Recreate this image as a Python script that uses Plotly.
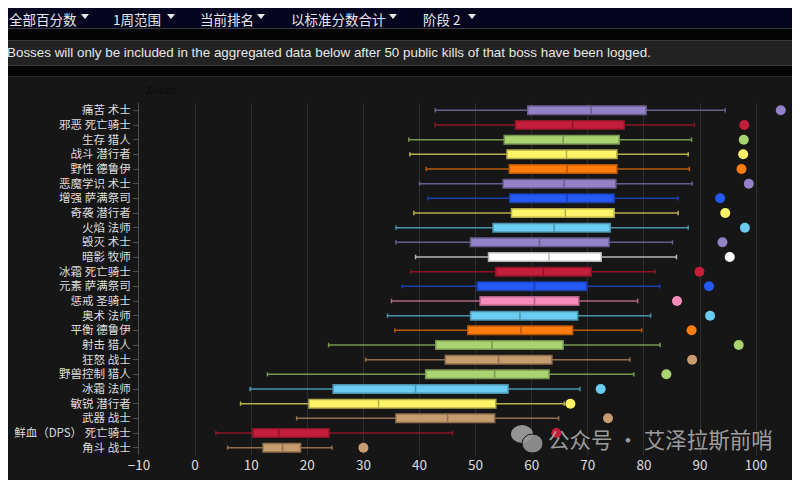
import plotly.graph_objects as go

# Spec rows, top to bottom
specs = [
    "痛苦 术士", "邪恶 死亡骑士", "生存 猎人", "战斗 潜行者", "野性 德鲁伊",
    "恶魔学识 术士", "增强 萨满祭司", "奇袭 潜行者", "火焰 法师", "毁灭 术士",
    "暗影 牧师", "冰霜 死亡骑士", "元素 萨满祭司", "惩戒 圣骑士", "奥术 法师",
    "平衡 德鲁伊", "射击 猎人", "狂怒 战士", "野兽控制 猎人", "冰霜 法师",
    "敏锐 潜行者", "武器 战士", "鲜血（DPS） 死亡骑士", "角斗 战士",
]
classes = [
    "术士", "死亡骑士", "猎人", "潜行者", "德鲁伊",
    "术士", "萨满祭司", "潜行者", "法师", "术士",
    "牧师", "死亡骑士", "萨满祭司", "圣骑士", "法师",
    "德鲁伊", "猎人", "战士", "猎人", "法师",
    "潜行者", "战士", "死亡骑士", "战士",
]
low = [42.8, 42.8, 38.1, 38.3, 41.2, 40.0, 41.5, 39.0, 35.8, 35.8, 39.3, 38.5,
       36.9, 35.0, 34.3, 35.6, 23.8, 30.4, 12.9, 9.8, 8.1, 18.1, 3.7, 5.8]
q1 = [59.3, 57.1, 55.1, 55.6, 56.0, 54.9, 56.1, 56.4, 53.1, 49.1, 52.3, 53.6,
      50.3, 50.8, 49.1, 48.6, 42.9, 44.6, 41.1, 24.6, 20.3, 35.8, 10.3, 12.1]
median = [70.6, 67.3, 65.6, 66.2, 66.3, 65.8, 66.3, 66.0, 64.0, 61.4, 63.1, 62.1,
          60.5, 60.5, 57.9, 58.1, 52.9, 54.1, 53.4, 39.3, 32.7, 45.0, 14.9, 15.6]
q3 = [80.4, 76.5, 75.6, 75.2, 75.2, 75.0, 74.7, 74.7, 74.0, 73.8, 72.4, 70.6,
      69.8, 68.4, 68.2, 67.3, 65.6, 63.6, 63.1, 55.8, 53.6, 53.4, 23.9, 18.8]
high = [94.5, 89.0, 88.5, 87.9, 88.1, 88.6, 86.1, 86.1, 87.9, 85.1, 85.8, 82.0,
        82.8, 78.9, 81.2, 79.6, 82.9, 77.5, 78.2, 68.6, 65.8, 64.8, 45.9, 24.4]
top = [104.4, 97.9, 97.8, 97.7, 97.4, 98.7, 93.6, 94.5, 98.0, 94.0, 95.3, 89.9,
       91.6, 85.9, 91.8, 88.5, 96.9, 88.6, 84.0, 72.3, 66.9, 73.6, 64.4, 30.0]

menu_items = ["全部百分数", "1周范围", "当前排名", "以标准分数合计", "阶段 2"]
notice = ("Bosses will only be included in the aggregated data below after 50 "
          "public kills of that boss have been logged.")

class_colors = {
    "术士": "#9482C9", "死亡骑士": "#C41E3A", "猎人": "#AAD372",
    "潜行者": "#FFF468", "德鲁伊": "#FF7C0A", "萨满祭司": "#2459F5",
    "法师": "#69CCF0", "牧师": "#FFFFFF", "圣骑士": "#F58CBA", "战士": "#C79C6E",
}


def darker(hex_color, f=0.72):
    h = hex_color.lstrip("#")
    r, g, b = (int(h[i:i + 2], 16) for i in (0, 2, 4))
    return f"rgb({int(r * f)},{int(g * f)},{int(b * f)})"


# the page puts the figure 8px in from the top-left corner,
# so build it 8px smaller and work in screen pixels
OFF = 8
FW, FH = 800 - OFF, 480 - OFF
L, T, W, H = 139 - OFF, 103 - OFF, 661, 352


def px(x):
    return (x - OFF - L) / W


def py(y):
    return 1 - (y - OFF - T) / H


fig = go.Figure()

for i, name in enumerate(specs):
    c = class_colors[classes[i]]
    fig.add_trace(go.Box(
        y=[name], q1=[q1[i]], median=[median[i]], q3=[q3[i]],
        lowerfence=[low[i]], upperfence=[high[i]],
        orientation="h", fillcolor=c,
        line=dict(color=darker(c), width=1.5),
        width=0.58, whiskerwidth=0.5, boxpoints=False,
        showlegend=False, hoverinfo="x",
    ))

fig.add_trace(go.Scatter(
    x=top, y=specs, mode="markers",
    marker=dict(size=10, color=[class_colors[c] for c in classes]),
    showlegend=False,
))

shapes = []


def band(y0, y1, color):
    shapes.append(dict(type="rect", xref="paper", yref="paper",
                       x0=px(0), x1=px(800), y0=py(y1), y1=py(y0),
                       fillcolor=color, line_width=0, layer="above"))


band(0, 1, "#3a3a3a")
band(1, 28, "#05051f")
band(28, 29, "#3a3a3a")
band(29, 40, "#040404")
band(40, 41, "#3a3a3a")
band(41, 65, "#222222")
band(65, 66, "#3a3a3a")
band(66, 76, "#040404")
band(76, 77, "#2a2a2a")

annotations = []
menu_x = [8, 112, 199, 290, 422]
tri_x = [85, 171, 261, 393, 472]
for text, x0, tx in zip(menu_items, menu_x, tri_x):
    # top-anchored at the figure edge so nothing gets clipped
    annotations.append(dict(
        text=text, x=px(x0), y=py(OFF), xref="paper", yref="paper",
        xanchor="left", yanchor="top", showarrow=False, borderpad=0,
        font=dict(family="Noto Sans CJK SC", size=13.5, color="#e8e8e8"),
    ))
    shapes.append(dict(
        type="path", xref="paper", yref="paper",
        path=f"M {px(tx - 4)} {py(14)} L {px(tx + 4)} {py(14)} L {px(tx)} {py(19)} Z",
        fillcolor="#e8e8e8", line_width=0,
    ))

annotations.append(dict(
    text=notice, x=px(4.5), y=py(53), xref="paper", yref="paper",
    xanchor="left", yanchor="middle", showarrow=False,
    font=dict(family="Liberation Sans, Arial", size=13.4, color="#e6e6e6"),
))
annotations.append(dict(
    text="Zoom", x=px(143), y=py(89), xref="paper", yref="paper",
    xanchor="left", yanchor="middle", showarrow=False,
    font=dict(family="Liberation Serif", size=13, color="#0a0a0a"),
))

# watermark
shapes.append(dict(type="circle", xref="paper", yref="paper",
                   x0=px(511), x1=px(533), y0=py(443), y1=py(425),
                   fillcolor="rgba(170,170,170,0.85)", line_width=0))
shapes.append(dict(type="circle", xref="paper", yref="paper",
                   x0=px(522), x1=px(543), y0=py(453), y1=py(434),
                   fillcolor="rgba(150,150,150,0.9)", line=dict(color="#161616", width=1)))
annotations.append(dict(
    text="公众号 · 艾泽拉斯前哨", x=px(546), y=py(438), xref="paper", yref="paper",
    xanchor="left", yanchor="middle", showarrow=False,
    font=dict(family="Noto Sans CJK SC", size=21.5, color="rgba(175,175,175,0.9)"),
))

fig.update_layout(
    width=FW, height=FH,
    margin=dict(l=L, r=FW - L - W, t=T, b=FH - T - H, autoexpand=False),
    paper_bgcolor="#161616", plot_bgcolor="#161616",
    boxmode="overlay",
    shapes=shapes, annotations=annotations,
    xaxis=dict(
        range=[-10, -10 + W / 5.61], dtick=10, tick0=0, automargin=False,
        showgrid=True, gridcolor="#2e2e2e", gridwidth=1,
        zeroline=False, showline=False, ticks="",
        tickfont=dict(family="Noto Sans CJK SC", size=13.5, color="#dddddd"),
    ),
    yaxis=dict(
        categoryorder="array", categoryarray=specs,
        range=[len(specs) - 0.5, -0.5],
        tickmode="array", tickvals=specs, automargin=False,
        showgrid=False, zeroline=False,
        showline=True, linecolor="#505050", linewidth=1,
        ticks="outside", ticklen=5, tickcolor="#505050",
        tickfont=dict(family="Noto Sans CJK SC", size=11.5, color="#dddddd"),
    ),
)

fig.write_html("out.html")
